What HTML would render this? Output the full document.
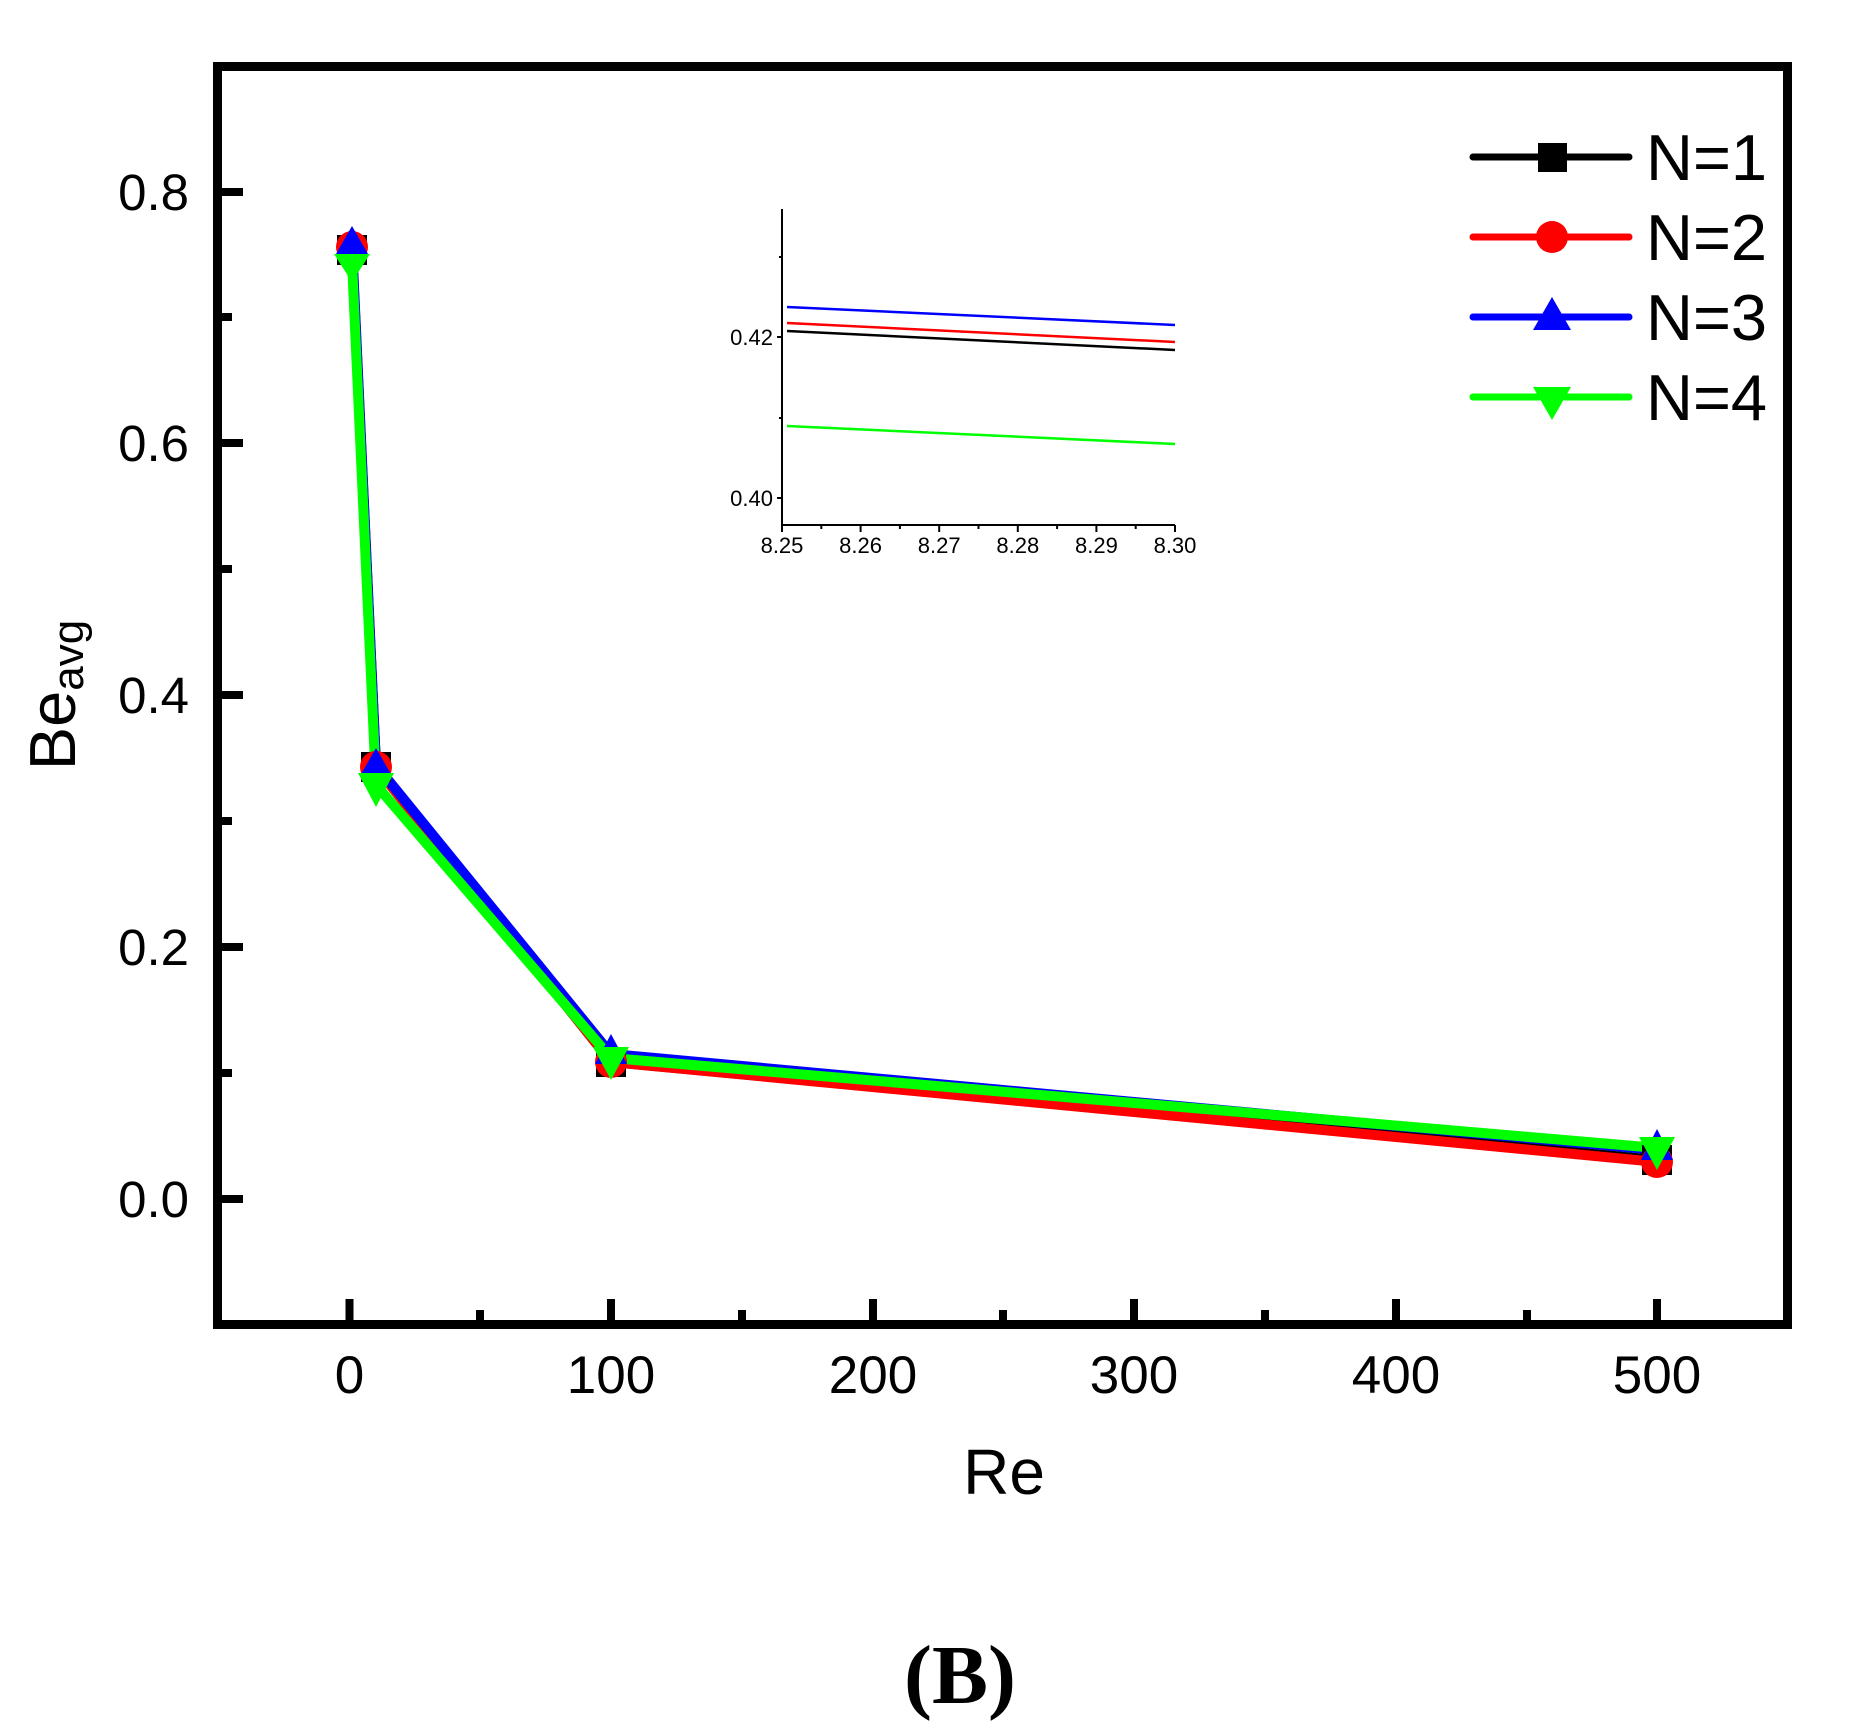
<!DOCTYPE html>
<html><head><meta charset="utf-8"><style>html,body{margin:0;padding:0;background:#fff}svg{display:block}</style></head>
<body>
<svg width="1851" height="1735" viewBox="0 0 1851 1735" xmlns="http://www.w3.org/2000/svg" font-family="Liberation Sans, Arial, sans-serif">
<rect width="1851" height="1735" fill="#fff"/>
<g fill="none" stroke-width="10" stroke-linejoin="round">
<polyline stroke="#000" points="352,250 376,767 611,1062 1657,1160"/>
<polyline stroke="#f00" points="352,247 376,767 611,1062 1657,1162"/>
<polyline stroke="#00f" points="352,243 376,765 611,1054 1657,1150"/>
<polyline stroke="#0f0" points="352,262 376,785 611,1058 1657,1148"/>
</g>
<g fill="#000">
<rect x="337" y="235" width="30" height="30"/><rect x="361" y="752" width="30" height="30"/><rect x="596" y="1047" width="30" height="30"/><rect x="1642" y="1145" width="30" height="30"/>
</g>
<g fill="#f00">
<circle cx="352" cy="247" r="16"/><circle cx="376" cy="767" r="16"/><circle cx="611" cy="1062" r="16"/><circle cx="1657" cy="1162" r="16"/>
</g>
<g fill="#00f">
<polygon points="352,226 336,254 368,254"/><polygon points="376,748 360,776 392,776"/><polygon points="611,1034 595,1064 627,1064"/><polygon points="1657,1129 1641,1160 1673,1160"/>
</g>
<g fill="#0f0">
<polygon points="334,254 370,254 352,282"/><polygon points="358,773 394,773 376,807"/><polygon points="593,1047 629,1047 611,1080"/><polygon points="1639,1137 1675,1137 1657,1170"/>
</g>
<rect x="217.5" y="66.5" width="1570" height="1258" fill="none" stroke="#000" stroke-width="9"/>
<g stroke="#000" stroke-width="8">
<line x1="222" y1="1199" x2="243" y2="1199"/><line x1="222" y1="947" x2="243" y2="947"/><line x1="222" y1="695" x2="243" y2="695"/><line x1="222" y1="443" x2="243" y2="443"/><line x1="222" y1="192" x2="243" y2="192"/>
<line x1="222" y1="1073" x2="232" y2="1073"/><line x1="222" y1="821" x2="232" y2="821"/><line x1="222" y1="569" x2="232" y2="569"/><line x1="222" y1="317" x2="232" y2="317"/>
<line x1="349.5" y1="1320" x2="349.5" y2="1299"/><line x1="611" y1="1320" x2="611" y2="1299"/><line x1="873" y1="1320" x2="873" y2="1299"/><line x1="1134" y1="1320" x2="1134" y2="1299"/><line x1="1396" y1="1320" x2="1396" y2="1299"/><line x1="1657" y1="1320" x2="1657" y2="1299"/>
<line x1="480" y1="1320" x2="480" y2="1310"/><line x1="742" y1="1320" x2="742" y2="1310"/><line x1="1003" y1="1320" x2="1003" y2="1310"/><line x1="1265" y1="1320" x2="1265" y2="1310"/><line x1="1527" y1="1320" x2="1527" y2="1310"/>
</g>
<g font-size="51" text-anchor="end" fill="#000">
<text x="189" y="1217">0.0</text><text x="189" y="965">0.2</text><text x="189" y="713">0.4</text><text x="189" y="461">0.6</text><text x="189" y="210">0.8</text>
</g>
<g font-size="53" text-anchor="middle" fill="#000">
<text x="349.5" y="1393">0</text><text x="611" y="1393">100</text><text x="873" y="1393">200</text><text x="1134" y="1393">300</text><text x="1396" y="1393">400</text><text x="1657" y="1393">500</text>
</g>
<text x="1004" y="1494" font-size="64" text-anchor="middle">Re</text>
<text transform="translate(75,695) rotate(-90)" font-size="65" text-anchor="middle">Be<tspan font-size="44" dy="8">avg</tspan></text>
<text x="960" y="1703" font-size="84" font-weight="bold" text-anchor="middle" font-family="Liberation Serif, Times New Roman, serif">(B)</text>
<g stroke-width="7" stroke-linecap="round">
<line x1="1473" y1="157" x2="1629" y2="157" stroke="#000"/>
<line x1="1473" y1="237" x2="1629" y2="237" stroke="#f00"/>
<line x1="1473" y1="317" x2="1629" y2="317" stroke="#00f"/>
<line x1="1473" y1="397" x2="1629" y2="397" stroke="#0f0"/>
</g>
<rect x="1538" y="143" width="29" height="29" fill="#000"/>
<circle cx="1552" cy="237" r="16" fill="#f00"/>
<polygon points="1552,297 1533,330 1571,330" fill="#00f"/>
<polygon points="1533,387 1571,387 1552,420" fill="#0f0"/>
<g font-size="65" fill="#000">
<text x="1646" y="180">N=1</text><text x="1646" y="260">N=2</text><text x="1646" y="340">N=3</text><text x="1646" y="420">N=4</text>
</g>
<g stroke-width="2.5" fill="none">
<line x1="787" y1="307" x2="1175" y2="325" stroke="#00f"/>
<line x1="787" y1="323" x2="1175" y2="342" stroke="#f00"/>
<line x1="787" y1="331" x2="1175" y2="350" stroke="#000"/>
<line x1="787" y1="426" x2="1175" y2="444" stroke="#0f0"/>
</g>
<g stroke="#000" stroke-width="2">
<polyline points="782,209 782,525 1175,525" fill="none"/>
<line x1="777" y1="337" x2="782" y2="337"/><line x1="777" y1="498" x2="782" y2="498"/>
<line x1="779" y1="257" x2="782" y2="257"/><line x1="779" y1="418" x2="782" y2="418"/>
<line x1="782" y1="525" x2="782" y2="532"/><line x1="860.6" y1="525" x2="860.6" y2="532"/><line x1="939.2" y1="525" x2="939.2" y2="532"/><line x1="1017.8" y1="525" x2="1017.8" y2="532"/><line x1="1096.4" y1="525" x2="1096.4" y2="532"/><line x1="1175" y1="525" x2="1175" y2="532"/>
<line x1="821.3" y1="525" x2="821.3" y2="529"/><line x1="899.9" y1="525" x2="899.9" y2="529"/><line x1="978.5" y1="525" x2="978.5" y2="529"/><line x1="1057.1" y1="525" x2="1057.1" y2="529"/><line x1="1135.7" y1="525" x2="1135.7" y2="529"/>
</g>
<g font-size="22" fill="#000">
<g text-anchor="end"><text x="773" y="345">0.42</text><text x="773" y="506">0.40</text></g>
<g text-anchor="middle"><text x="782" y="553">8.25</text><text x="860.6" y="553">8.26</text><text x="939.2" y="553">8.27</text><text x="1017.8" y="553">8.28</text><text x="1096.4" y="553">8.29</text><text x="1175" y="553">8.30</text></g>
</g>
</svg>
</body></html>
